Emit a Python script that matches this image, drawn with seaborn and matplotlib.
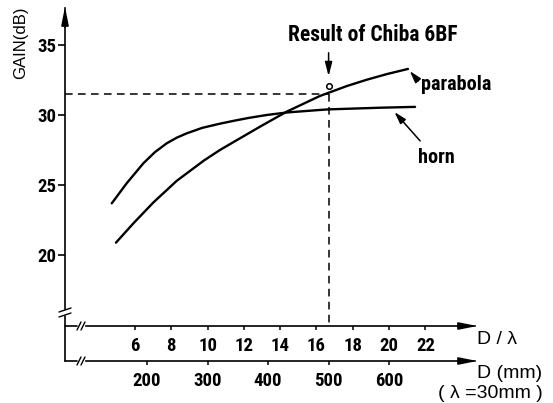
import matplotlib
matplotlib.use("Agg")
import matplotlib.pyplot as plt
import seaborn as sns
import pandas as pd

# ---------------- data ----------------
horn_dl = [4.72, 5.54, 6.46, 7.10, 7.75, 8.30, 8.85, 9.70, 10.68, 11.42, 12.30, 13.26, 14.36,
           16.19, 16.63, 19.50, 21.43]
horn_gain = [23.69, 25.12, 26.55, 27.35, 27.98, 28.38, 28.69, 29.08, 29.38, 29.58, 29.80, 30.00,
             30.18, 30.36, 30.40, 30.52, 30.58]

para_dl = [4.95, 5.91, 7.01, 8.30, 9.80, 10.68, 11.79, 13.00, 14.36, 16.19, 16.69,
           17.70, 18.77, 19.90, 21.04]
para_gain = [20.88, 22.26, 23.75, 25.30, 26.75, 27.50, 28.34, 29.25, 30.24, 31.36, 31.60,
             32.08, 32.52, 32.93, 33.29]

gain_ticks = [20, 25, 30, 35]
dl_ticks = [6, 8, 10, 12, 14, 16, 18, 20, 22]
d_ticks = [200, 300, 400, 500, 600]
wavelength_mm = 30
result_d_mm = 500
result_gain = 32.07
ref_gain = 31.5

# ---------------- style ----------------
sns.set_theme(style="white")
plt.rcParams["font.family"] = ["Liberation Sans", "DejaVu Sans"]
for k in ["text.color", "axes.labelcolor", "xtick.color", "ytick.color", "axes.edgecolor"]:
    plt.rcParams[k] = "black"
BOLD = ["Roboto Condensed", "Liberation Sans", "DejaVu Sans"]

W, H = 553, 403
fig = plt.figure(figsize=(W / 100, H / 100), dpi=100)
fig.patch.set_facecolor("white")

# pixel layout of the plot frame
L, R, B, T = 65, 475, 326, 8
ax = fig.add_axes([L / W, 1 - B / H, (R - L) / W, (B - T) / H])
ax.set_facecolor("white")

px_per_dl = 18.15
px_per_db = 14.0
def xd(px):
    return 6 + (px - 135) / px_per_dl
def yd(py):
    return 30 - (py - 115) / px_per_db

ax.set_xlim(xd(L), xd(R))
ax.set_ylim(yd(B), yd(T))

df = pd.DataFrame({
    "dl": horn_dl + para_dl,
    "gain": horn_gain + para_gain,
    "kind": ["horn"] * len(horn_dl) + ["parabola"] * len(para_dl),
})
sns.lineplot(data=df, x="dl", y="gain", units="kind", estimator=None,
             color="black", lw=1.7, sort=False, ax=ax)
for ln in ax.lines:
    ln.set_solid_joinstyle("round")
    ln.set_solid_capstyle("round")
ax.set_xlabel("")
ax.set_ylabel("")

# dashed reference lines
result_dl = result_d_mm / wavelength_mm
dash = (0, (5, 3.5))
ax.plot([xd(L), result_dl], [ref_gain, ref_gain], color="black", lw=1.1, ls=dash)
ax.plot([result_dl, result_dl], [ref_gain, yd(B)], color="black", lw=1.1, ls=dash)

# measured result
ax.plot([result_dl], [result_gain], marker="o", ms=4, mfc="white", mec="black", mew=1.1)
ax.annotate("", xy=(result_dl, yd(79)), xytext=(result_dl, yd(50)),
            arrowprops=dict(arrowstyle="-|>,head_length=0.7,head_width=0.18",
                            color="black", lw=1.1))
ax.text(xd(373), yd(35), "Result of Chiba 6BF", ha="center", va="center",
        fontsize=15.5, fontweight="bold", family=BOLD)

# curve labels
ax.text(xd(421), yd(85), "parabola", ha="left", va="center",
        fontsize=14.5, fontweight="bold", family=BOLD)
ax.annotate("", xy=(para_dl[-1], para_gain[-1]), xytext=(xd(420), yd(83)),
            arrowprops=dict(arrowstyle="-|>,head_length=0.6,head_width=0.18",
                            color="black", lw=1.1))
ax.text(xd(418), yd(157), "horn", ha="left", va="center",
        fontsize=14.5, fontweight="bold", family=BOLD)
ax.annotate("", xy=(xd(392.7), yd(110)), xytext=(xd(422), yd(143)),
            arrowprops=dict(arrowstyle="-|>,head_length=0.6,head_width=0.18",
                            color="black", lw=1.1))

# spines
for s in ["top", "right"]:
    ax.spines[s].set_visible(False)
for s in ["left", "bottom"]:
    ax.spines[s].set_color("black")
    ax.spines[s].set_linewidth(1.2)
ax.spines["left"].set_bounds(yd(309), yd(T))
ax.spines["bottom"].set_bounds(xd(86), xd(R))

# ticks
ax.set_yticks(gain_ticks)
ax.set_xticks(dl_ticks)
ax.tick_params(axis="y", direction="out", length=5, width=1.2, pad=1,
               colors="black", labelsize=13.5, left=True)
ax.tick_params(axis="x", direction="out", length=3, width=1.1, pad=5,
               colors="black", labelsize=13.5, bottom=True)
for lbl in ax.get_yticklabels() + ax.get_xticklabels():
    lbl.set_fontweight("bold")
    lbl.set_family(BOLD)

# secondary axis: D (mm)
off = -(361 - B) / (B - T)
sec = ax.secondary_xaxis(off, functions=(lambda x: x * wavelength_mm,
                                         lambda d: d / wavelength_mm))
sec.set_xticks(d_ticks)
sec.spines["bottom"].set_color("black")
sec.spines["bottom"].set_linewidth(1.2)
sec.spines["bottom"].set_bounds(xd(86) * wavelength_mm, xd(R) * wavelength_mm)
sec.tick_params(axis="x", direction="out", length=3, width=1.1, pad=5,
                colors="black", labelsize=13.5)
for lbl in sec.get_xticklabels():
    lbl.set_fontweight("bold")
    lbl.set_family(BOLD)

# extra axis pieces drawn in figure pixel coordinates
def fx(px):
    return px / W
def fy(py):
    return 1 - py / H
line_kw = dict(color="black", lw=1.2, transform=fig.transFigure, clip_on=False)
fig.add_artist(plt.Line2D([fx(L), fx(L)], [fy(316), fy(361)], **line_kw))
fig.add_artist(plt.Line2D([fx(L), fx(77)], [fy(326), fy(326)], **line_kw))
fig.add_artist(plt.Line2D([fx(L), fx(77)], [fy(361), fy(361)], **line_kw))
# break marks
brk = dict(color="black", lw=1.0, transform=fig.transFigure, clip_on=False)
for dy in (0, 5):
    fig.add_artist(plt.Line2D([fx(59), fx(71)], [fy(312 + dy), fy(308 + dy)], **brk))
for yy in (326, 361):
    for x0 in (77, 81):
        fig.add_artist(plt.Line2D([fx(x0), fx(x0 + 4)], [fy(yy + 4), fy(yy - 4)], **brk))

# arrow heads on axes
arw = dict(arrowstyle="-|>,head_length=0.9,head_width=0.18", color="black", lw=1.2)
ax.annotate("", xy=(fx(L), fy(4)), xytext=(fx(L), fy(30)),
            xycoords="figure fraction", textcoords="figure fraction", arrowprops=arw)
for yy in (326, 361):
    ax.annotate("", xy=(fx(480), fy(yy)), xytext=(fx(455), fy(yy)),
                xycoords="figure fraction", textcoords="figure fraction", arrowprops=arw)

# axis titles
fig.text(fx(21), fy(43), "GAIN(dB)", rotation=90, ha="center", va="center", fontsize=12)
fig.text(fx(477), fy(340), "D / λ", ha="left", va="center", fontsize=14)
fig.text(fx(510), fy(374), "D (mm)", ha="center", va="center", fontsize=14)
fig.text(fx(490), fy(393), "( λ =30mm )", ha="center", va="center", fontsize=14)

fig.savefig("out.png", dpi=100, facecolor="white")
